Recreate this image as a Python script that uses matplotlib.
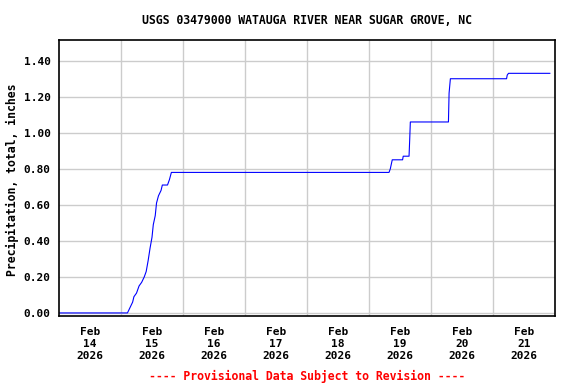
import pandas as pd
import matplotlib
matplotlib.use("Agg")
from matplotlib import pyplot as plt

# Datos (precipitacion acumulada, pulgadas)
tiempos = ["2026-02-14 00:00", "2026-02-15 02:30", "2026-02-15 04:30", "2026-02-15 05:00",
           "2026-02-15 06:00", "2026-02-15 07:00", "2026-02-15 08:00", "2026-02-15 09:00",
           "2026-02-15 09:45", "2026-02-15 10:30", "2026-02-15 11:15", "2026-02-15 12:00",
           "2026-02-15 12:30", "2026-02-15 13:15", "2026-02-15 13:45", "2026-02-15 14:30",
           "2026-02-15 15:30", "2026-02-15 16:00", "2026-02-15 18:00", "2026-02-15 18:45",
           "2026-02-15 19:30", "2026-02-19 07:45", "2026-02-19 08:15", "2026-02-19 09:00",
           "2026-02-19 13:00", "2026-02-19 13:15", "2026-02-19 15:30", "2026-02-19 15:45",
           "2026-02-19 16:00", "2026-02-20 06:45", "2026-02-20 07:00", "2026-02-20 07:30",
           "2026-02-20 08:45", "2026-02-21 05:15", "2026-02-21 05:30", "2026-02-21 06:00",
           "2026-02-21 22:00"]
valores = [0.00, 0.00, 0.06, 0.09,
           0.11, 0.15, 0.17, 0.20,
           0.23, 0.29, 0.36, 0.42,
           0.49, 0.54, 0.61, 0.65,
           0.68, 0.71, 0.71, 0.74,
           0.78, 0.78, 0.80, 0.85,
           0.85, 0.87, 0.87, 0.96,
           1.06, 1.06, 1.22, 1.30,
           1.30, 1.30, 1.32, 1.33,
           1.33]
dias = ["2026-02-14", "2026-02-15", "2026-02-16", "2026-02-17",
        "2026-02-18", "2026-02-19", "2026-02-20", "2026-02-21"]
y_ticks = [0.0, 0.2, 0.4, 0.6, 0.8, 1.0, 1.2, 1.4]

titulo = "USGS 03479000 WATAUGA RIVER NEAR SUGAR GROVE, NC"
y_label = "Precipitation, total, inches"
nota = "---- Provisional Data Subject to Revision ----"

fuente = "DejaVu Sans Mono"
plt.rcParams["font.family"] = fuente
plt.rcParams["font.weight"] = "bold"

t = pd.to_datetime(tiempos)
d = pd.to_datetime(dias)

fig = plt.figure(figsize=(5.76, 3.84), dpi=100)
ax = fig.add_axes([59 / 576, 1 - 316 / 384, 496 / 576, 276 / 384])

ax.plot(t, valores, color="#0000ff", linewidth=0.8)

ax.set_xlim(d[0], d[-1] + pd.Timedelta(days=1))
ax.set_ylim(-0.017, 1.515)

# lineas de cuadricula a medianoche, etiquetas a mediodia
ax.set_xticks(list(d[1:]))
ax.set_xticklabels([])
ax.set_xticks(list(d + pd.Timedelta(hours=12)), minor=True)
ax.set_xticklabels([x.strftime("%b\n%d\n%Y") for x in d], minor=True,
                   fontsize=8, fontweight="bold", linespacing=1.27)
ax.tick_params(axis="x", which="both", length=0, pad=8)

ax.set_yticks(y_ticks)
ax.set_yticklabels(["%.2f" % v for v in y_ticks], fontsize=8, fontweight="bold")
ax.tick_params(axis="y", length=0, pad=6)

ax.grid(True, which="major", color="#cccccc", linewidth=1.0)
ax.set_axisbelow(True)
for s in ax.spines.values():
    s.set_linewidth(1.2)
    s.set_color("black")

centro = 307 / 576
fig.text(centro, 1 - 20 / 384, titulo, ha="center", va="center", fontsize=8.3, fontweight="bold")
fig.text(12 / 576, 1 - 180 / 384, y_label, ha="center", va="center", rotation=90,
         fontsize=8.3, fontweight="bold")
fig.text(centro, 1 - 376 / 384, nota, ha="center", va="center", fontsize=8.3,
         fontweight="bold", color="#ff0000")

plt.savefig("out.png", dpi=100)
